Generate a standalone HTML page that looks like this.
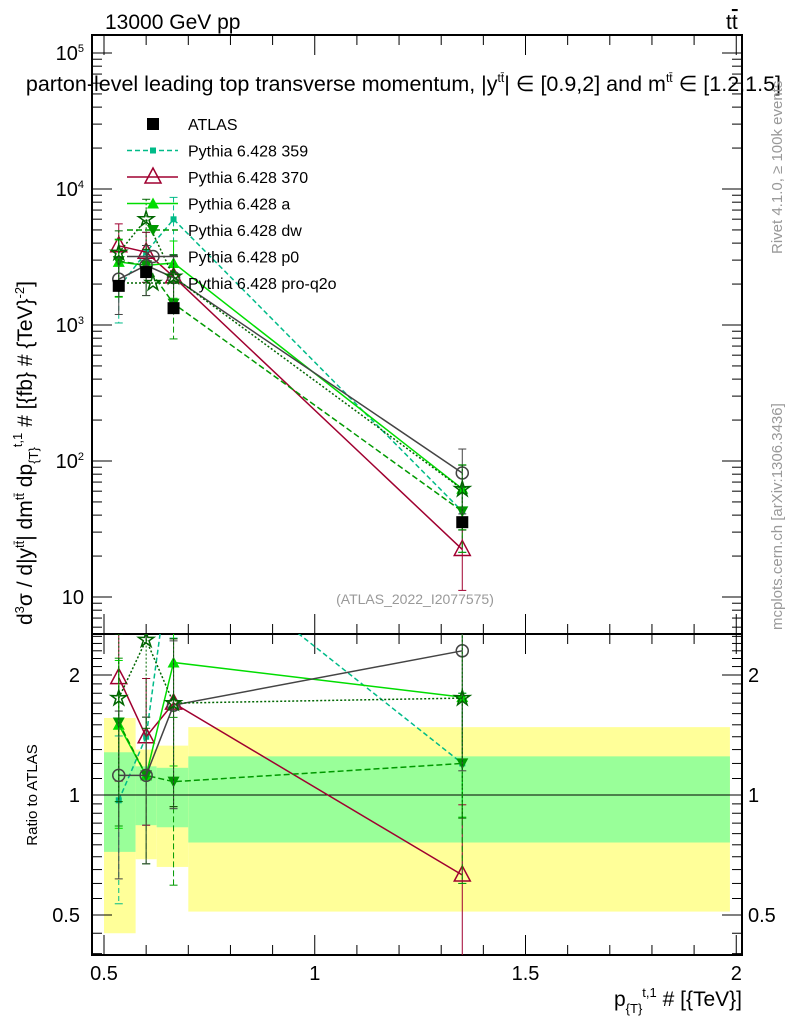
<!DOCTYPE html>
<html><head><meta charset="utf-8"><style>
body{margin:0;background:#fff;}
svg{font-family:"Liberation Sans",sans-serif;}
</style></head><body>
<svg id="c" width="786" height="1024" xmlns="http://www.w3.org/2000/svg"></svg>
<script>
const xBinEdges=[0.5,0.575,0.625,0.7,1.985];
const bandYellowHi=[1.56,1.30,1.33,1.48];
const bandYellowLo=[0.45,0.69,0.66,0.51];
const bandGreenHi=[1.28,1.18,1.17,1.25];
const bandGreenLo=[0.72,0.84,0.83,0.76];
const xPts=[0.535,0.6,0.665,1.35];
const atlasVals=[1940,2450,1330,35.5];
const r359=[0.97,1.4,4.5,1.2];
const r370=[1.97,1.4,1.7,0.63];
const rA=[1.5,1.12,2.15,1.76];
const rDw=[1.52,1.12,1.08,1.2];
const rP0=[1.12,1.12,1.68,2.3];
const rQ2o=[1.75,2.45,1.7,1.75];
const errRel=[0.45,0.4,0.45,0.5];
const mainTicks=[10,100,1000,10000,100000];
const mainTickLabels=["10","10<tspan dy='-8' font-size='11'>2</tspan>","10<tspan dy='-8' font-size='11'>3</tspan>","10<tspan dy='-8' font-size='11'>4</tspan>","10<tspan dy='-8' font-size='11'>5</tspan>"];
const ratioTicks=[0.5,1,2];
const ratioTickLabels=["0.5","1","2"];
const xTicks=[0.5,1,1.5,2];
const xTickLabels=["0.5","1","1.5","2"];

const L=92,R=742,T=35,MB=634,RB=955;
const X=v=>104+(v-0.5)*421.5;
const Y=v=>325-(Math.log10(v)-3)*136;
const YR=v=>795-Math.log2(v)*120;
const svg=document.getElementById('c');
const NS="http://www.w3.org/2000/svg";
function el(tag,attrs,parent){const e=document.createElementNS(NS,tag);for(const k in attrs)e.setAttribute(k,attrs[k]);(parent||svg).appendChild(e);return e;}
function txt(s,attrs,parent){const e=el('text',attrs,parent);e.innerHTML=s;return e;}

const gBand=el('g',{});


for(let i=0;i<4;i++){
 const r=el('rect',{x:X(xBinEdges[i]),width:X(xBinEdges[i+1])-X(xBinEdges[i]),y:YR(bandYellowHi[i]),height:YR(bandYellowLo[i])-YR(bandYellowHi[i]),fill:'#ffff99'},gBand);
 
 
 const g=el('rect',{x:X(xBinEdges[i]),width:X(xBinEdges[i+1])-X(xBinEdges[i]),y:YR(bandGreenHi[i]),height:YR(bandGreenLo[i])-YR(bandGreenHi[i]),fill:'#99ff99'},gBand);
 
 
}
el('line',{x1:L,x2:R,y1:YR(1),y2:YR(1),stroke:'#000'});

for(const [t,b,n] of [[T,MB,'main-frame'],[MB,RB,'ratio-frame']]){
 const f=el('rect',{x:L,y:t,width:R-L,height:b-t,fill:'none',stroke:'#000','stroke-width':2});
 
 
}
for(let d=0;d<5;d++){
 for(let m=1;m<10;m++){
  const yy=Y(mainTicks[0]*Math.pow(10,d)*m);
  if(yy<T||yy>MB)continue;
  const len=m===1?20:10;
  el('line',{x1:L,x2:L+len,y1:yy,y2:yy,stroke:'#000'});
  el('line',{x1:R,x2:R-len,y1:yy,y2:yy,stroke:'#000'});
 }
}
for(let m=2;m<10;m++){const yy=Y(m);if(yy<MB){el('line',{x1:L,x2:L+10,y1:yy,y2:yy,stroke:'#000'});el('line',{x1:R,x2:R-10,y1:yy,y2:yy,stroke:'#000'});}}
mainTicks.forEach((v,i)=>{const t=txt(mainTickLabels[i],{x:L-8,y:Y(v)+7,'text-anchor':'end','font-size':20});});
for(const v of [0.4,0.45,0.5,0.55,0.6,0.65,0.7,0.75,0.8,0.85,0.9,0.95,1,1.1,1.2,1.3,1.4,1.5,1.6,1.7,1.8,1.9,2,2.1,2.2,2.3,2.4,2.5]){
 const yy=YR(v);if(yy<MB||yy>RB)continue;
 const len=ratioTicks.includes(v)?20:10;
 el('line',{x1:L,x2:L+len,y1:yy,y2:yy,stroke:'#000'});
 el('line',{x1:R,x2:R-len,y1:yy,y2:yy,stroke:'#000'});
}
ratioTicks.forEach((v,i)=>{
 const a=txt(ratioTickLabels[i],{x:L-12,y:YR(v)+7,'text-anchor':'end','font-size':20});
 const b=txt(ratioTickLabels[i],{x:R+6,y:YR(v)+7,'font-size':20});
});
for(let v=0.5;v<=2.01;v+=0.1){
 const xx=X(v);const major=Math.abs(v*2-Math.round(v*2))<1e-6;const len=major?20:10;
 for(const [y0,dir] of [[T,1],[MB,-1],[MB,1],[RB,-1]])el('line',{x1:xx,x2:xx,y1:y0,y2:y0+dir*len,stroke:'#000'});
}
xTicks.forEach((v,i)=>{const t=txt(xTickLabels[i],{x:X(v),y:980,'text-anchor':'middle','font-size':20});});

const series=[
 {n:'pythia-359',r:r359,c:'#00bb88',dash:'5,3',m:'sq'},
 {n:'pythia-370',r:r370,c:'#a00030',dash:'',m:'tri-open'},
 {n:'pythia-a',r:rA,c:'#00dd00',dash:'',m:'tri'},
 {n:'pythia-dw',r:rDw,c:'#009900',dash:'6,3',m:'tridown'},
 {n:'pythia-p0',r:rP0,c:'#444444',dash:'',m:'circ'},
 {n:'pythia-pro-q2o',r:rQ2o,c:'#006600',dash:'2,2',m:'star'},
];
function marker(kind,x,y,c,g){
 if(kind==='sq')return el('rect',{x:x-3,y:y-3,width:6,height:6,fill:c},g);
 if(kind==='sqbig')return el('rect',{x:x-6,y:y-6,width:12,height:12,fill:'#000'},g);
 if(kind==='tri-open')return el('polygon',{points:`${x},${y-9} ${x-8},${y+6} ${x+8},${y+6}`,fill:'none',stroke:c,'stroke-width':1.5},g);
 if(kind==='tri')return el('polygon',{points:`${x},${y-6} ${x-6},${y+5} ${x+6},${y+5}`,fill:c},g);
 if(kind==='tridown')return el('polygon',{points:`${x},${y+6} ${x-6},${y-5} ${x+6},${y-5}`,fill:c},g);
 if(kind==='circ')return el('circle',{cx:x,cy:y,r:6,fill:'none',stroke:c,'stroke-width':1.5},g);
 if(kind==='star'){let p=[];for(let k=0;k<10;k++){const rr=k%2?3:8,a=-Math.PI/2+k*Math.PI/5;p.push((x+rr*Math.cos(a)).toFixed(1)+','+(y+rr*Math.sin(a)).toFixed(1));}return el('polygon',{points:p.join(' '),fill:'none',stroke:c,'stroke-width':1.5},g);}
}
const clipD=el('defs',{});
const cm=el('clipPath',{id:'cm'},clipD);el('rect',{x:L,y:T,width:R-L,height:MB-T},cm);
const cr=el('clipPath',{id:'cr'},clipD);el('rect',{x:L,y:MB,width:R-L,height:RB-MB},cr);
series.forEach(s=>{
 for(const panel of ['main','ratio']){
  const g=el('g',{'clip-path':panel==='main'?'url(#cm)':'url(#cr)'});
  
  
  const ys=xPts.map((x,i)=>panel==='main'?Y(atlasVals[i]*s.r[i]):YR(s.r[i]));
  el('polyline',{points:xPts.map((x,i)=>X(x)+','+ys[i]).join(' '),fill:'none',stroke:s.c,'stroke-width':1.5,'stroke-dasharray':s.dash},g);
  xPts.forEach((x,i)=>{
   const v=panel==='main'?atlasVals[i]*s.r[i]:s.r[i];
   const f=panel==='main'?Y:YR;
   const y1=f(v*(1+errRel[i])),y2=f(Math.max(v*(1-errRel[i]),0.01));
   el('line',{x1:X(x),x2:X(x),y1:y1,y2:y2,stroke:s.c,'stroke-dasharray':s.dash},g);
   el('line',{x1:X(x)-4,x2:X(x)+4,y1:y1,y2:y1,stroke:s.c},g);
   el('line',{x1:X(x)-4,x2:X(x)+4,y1:y2,y2:y2,stroke:s.c},g);
   const mk=marker(s.m,X(x),ys[i],s.c,g);
   
   
  });
 }
});
const ga=el('g',{});


xPts.forEach((x,i)=>{
 el('line',{x1:X(x),x2:X(x),y1:Y(atlasVals[i]*1.1),y2:Y(atlasVals[i]*0.9),stroke:'#000'},ga);
 const m=marker('sqbig',X(x),Y(atlasVals[i]),'#000',ga);
 
 
});

const leg=[['ATLAS','#000','','sqbig'],['Pythia 6.428 359','#00bb88','5,3','sq'],['Pythia 6.428 370','#a00030','','tri-open'],['Pythia 6.428 a','#00dd00','','tri'],['Pythia 6.428 dw','#009900','6,3','tridown'],['Pythia 6.428 p0','#444444','','circ'],['Pythia 6.428 pro-q2o','#006600','2,2','star']];
leg.forEach((e,i)=>{
 const g=el('g',{});
 
 
 const y=124+i*26.5;
 if(i>0)el('line',{x1:127,x2:178,y1:y,y2:y,stroke:e[1],'stroke-width':1.5,'stroke-dasharray':e[2]},g);
 marker(e[3],153,y,e[1],g);
 txt(e[0],{x:188,y:y+6,'font-size':16},g);
});

const labels=[
 ['13000 GeV pp',{x:105,y:29,'font-size':21},'energy-label'],
 ['t<tspan text-decoration="overline">t</tspan>',{x:726,y:29,'font-size':21},'process-label'],
 ['parton-level leading top transverse momentum, |y<tspan dy="-9" font-size="12">tt̄</tspan><tspan dy="9">| ∈ [0.9,2] and m</tspan><tspan dy="-9" font-size="12">tt̄</tspan><tspan dy="9"> ∈ [1.2,1.5]</tspan>',{x:781,y:91,'font-size':21.5,'text-anchor':'end'},'plot-title'],
 ['(ATLAS_2022_I2077575)',{x:415,y:604,'font-size':14,fill:'#999','text-anchor':'middle'},'analysis-id'],
 ['p<tspan dy="7" font-size="13">{T}</tspan><tspan dy="-16" font-size="13">t,1</tspan><tspan dy="9"> # [{TeV}]</tspan>',{x:742,y:1006,'font-size':21,'text-anchor':'end'},'x-axis-title'],
 ['Ratio to ATLAS',{x:0,y:0,'font-size':15,transform:'translate(37,795) rotate(-90)','text-anchor':'middle'},'ratio-axis-title'],
 ['d<tspan dy="-8" font-size="13">3</tspan><tspan dy="8">σ / d|y</tspan><tspan dy="-8" font-size="13">tt̄</tspan><tspan dy="8">| dm</tspan><tspan dy="-8" font-size="13">tt̄</tspan><tspan dy="8"> dp</tspan><tspan dy="6" font-size="13">{T}</tspan><tspan dy="-16" font-size="13">t,1</tspan><tspan dy="10"> # [{fb} # {TeV}</tspan><tspan dy="-8" font-size="13">-2</tspan><tspan dy="8">]</tspan>',{x:0,y:0,'font-size':21,transform:'translate(32,625) rotate(-90)'},'y-axis-title'],
 ['Rivet 4.1.0, ≥ 100k events',{x:0,y:0,'font-size':15,fill:'#999',transform:'translate(782,254) rotate(-90)'},'rivet-label'],
 ['mcplots.cern.ch [arXiv:1306.3436]',{x:0,y:0,'font-size':15,fill:'#999',transform:'translate(782,630) rotate(-90)'},'mcplots-label'],
];
labels.forEach(([s,a,n])=>{const t=txt(s,a);});
</script>
</body></html>
